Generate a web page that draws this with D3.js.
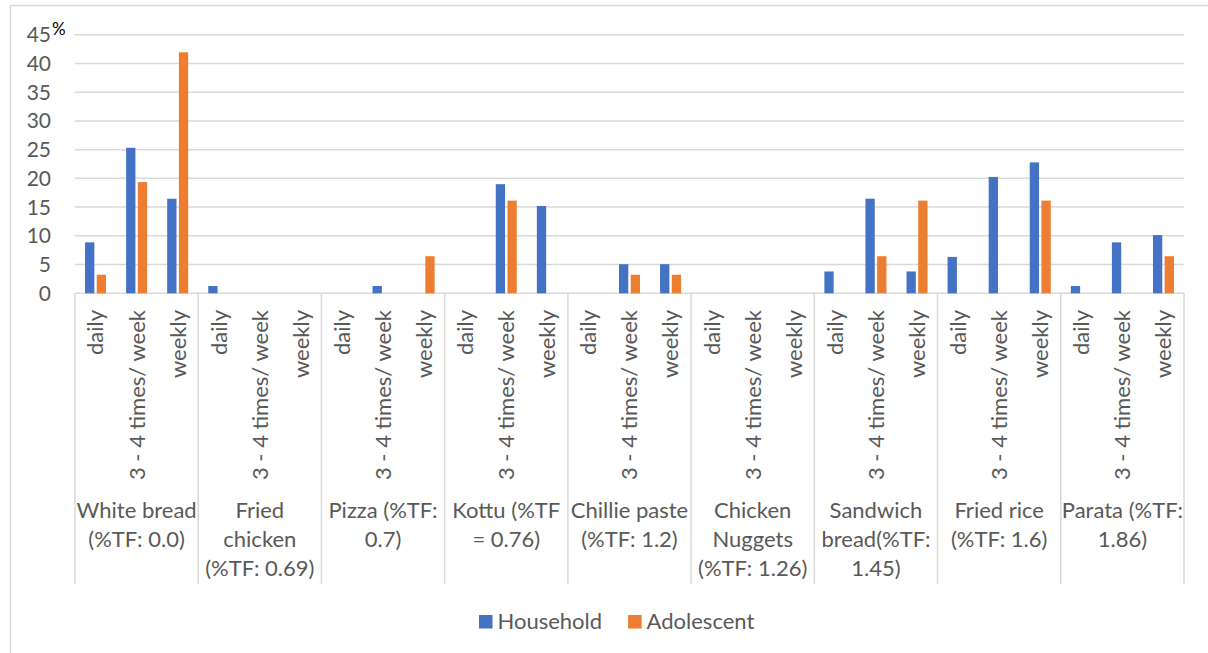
<!DOCTYPE html>
<html>
<head>
<meta charset="utf-8">
<script src="https://cdn.jsdelivr.net/npm/d3@7"></script>
<style>
  body { margin: 0; background: #fff; }
  text { font-family: Lato, "Noto Sans", sans-serif; }
</style>
</head>
<body>
<svg id="chart" width="1208" height="653"></svg>
<script>
// Food items (line breaks mark where the category label wraps)
const foods = [
  "White bread\n(%TF: 0.0)",
  "Fried\nchicken\n(%TF: 0.69)",
  "Pizza (%TF:\n0.7)",
  "Kottu (%TF\n= 0.76)",
  "Chillie paste\n(%TF: 1.2)",
  "Chicken\nNuggets\n(%TF: 1.26)",
  "Sandwich\nbread(%TF:\n1.45)",
  "Fried rice\n(%TF: 1.6)",
  "Parata (%TF:\n1.86)"
];
const frequencies = ["daily", "3 - 4 times/ week", "weekly"];
const seriesNames = ["Household", "Adolescent"];
const seriesColors = ["#4472C4", "#ED7D31"];

// Percent of respondents, ordered food by food, frequency by frequency
const household = [
  8.86, 25.32, 16.46,
  1.27, 0, 0,
  0, 1.27, 0,
  0, 18.99, 15.19,
  0, 5.06, 5.06,
  0, 0, 0,
  3.80, 16.46, 3.80,
  6.33, 20.25, 22.78,
  1.27, 8.86, 10.13
];
const adolescent = [
  3.23, 19.35, 41.94,
  0, 0, 0,
  0, 0, 6.45,
  0, 16.13, 0,
  0, 3.23, 3.23,
  0, 0, 0,
  0, 6.45, 16.13,
  0, 0, 16.13,
  0, 0, 6.45
];
const yTicks = [0, 5, 10, 15, 20, 25, 30, 35, 40, 45];

const svg = d3.select("#chart");
const W = 1208, H = 653;
const plotLeft = 75, plotRight = 1184, plotTop = 34.7, plotBottom = 293.3;
const gridColor = "#d9d9d9", textColor = "#595959";
const fontSize = 22;

// outer chart frame
svg.append("rect")
  .attr("x", 10.5).attr("y", 5.5)
  .attr("width", W + 20).attr("height", H + 20)
  .attr("fill", "#fff").attr("stroke", gridColor).attr("stroke-width", 1.5);

const xGroup = d3.scaleBand().domain(foods).range([plotLeft, plotRight]);
const xFreq = d3.scaleBand().domain(frequencies).range([0, xGroup.bandwidth()]);
const xSeries = d3.scaleBand().domain(seriesNames)
  .range([0, xFreq.bandwidth()])
  .paddingInner(0.205).paddingOuter(0.858);
const y = d3.scaleLinear().domain([0, 45]).range([plotBottom, plotTop]);

// horizontal gridlines
svg.append("g").selectAll("line").data(yTicks).join("line")
  .attr("x1", plotLeft).attr("x2", plotRight)
  .attr("y1", d => y(d)).attr("y2", d => y(d))
  .attr("stroke", gridColor).attr("stroke-width", 1.5);

// y tick labels
svg.append("g").selectAll("text").data(yTicks).join("text")
  .attr("x", 51).attr("y", d => y(d)).attr("dy", "0.36em")
  .attr("text-anchor", "end").attr("fill", textColor)
  .attr("font-size", 21)
  .text(d => d);

// unit label
svg.append("text").attr("x", 52).attr("y", 35)
  .attr("font-size", 17).attr("fill", "#000").text("%");

// flattened records for the bars
const records = [];
foods.forEach((f, gi) => {
  frequencies.forEach((q, qi) => {
    const i = gi * frequencies.length + qi;
    records.push({ food: f, freq: q, series: "Household", value: household[i], color: seriesColors[0] });
    records.push({ food: f, freq: q, series: "Adolescent", value: adolescent[i], color: seriesColors[1] });
  });
});

svg.append("g").selectAll("rect").data(records.filter(d => d.value > 0)).join("rect")
  .attr("x", d => xGroup(d.food) + xFreq(d.freq) + xSeries(d.series))
  .attr("width", xSeries.bandwidth())
  .attr("y", d => y(d.value))
  .attr("height", d => y(0) - y(d.value))
  .attr("fill", d => d.color);

// group separators on the category axis
const sepBottom = 584;
const bounds = foods.map(f => xGroup(f)).concat([plotRight]);
svg.append("g").selectAll("line").data(bounds).join("line")
  .attr("x1", d => d).attr("x2", d => d)
  .attr("y1", plotBottom).attr("y2", sepBottom)
  .attr("stroke", gridColor).attr("stroke-width", 1.5);

// frequency labels (rotated)
const freqLabels = [];
foods.forEach(f => frequencies.forEach(q => freqLabels.push({ food: f, freq: q })));
svg.append("g").selectAll("text").data(freqLabels).join("text")
  .attr("transform", d => `translate(${xGroup(d.food) + xFreq(d.freq) + xFreq.bandwidth() / 2},310) rotate(-90)`)
  .attr("text-anchor", "end").attr("dy", "0.36em")
  .attr("font-size", fontSize).attr("fill", textColor)
  .text(d => d.freq);

// food labels (wrapped)
const foodG = svg.append("g").selectAll("text").data(foods).join("text")
  .attr("text-anchor", "middle").attr("font-size", fontSize).attr("fill", textColor);
foodG.selectAll("tspan").data(d => d.split("\n").map(t => ({ t, f: d }))).join("tspan")
  .attr("x", d => xGroup(d.f) + xGroup.bandwidth() / 2)
  .attr("y", (d, i) => 518 + i * 29)
  .text(d => d.t);

// legend
const legend = svg.append("g");
let lx = 479;
seriesNames.forEach((s, i) => {
  legend.append("rect").attr("x", lx).attr("y", 615).attr("width", 13.5).attr("height", 13.5)
    .attr("fill", seriesColors[i]);
  const t = legend.append("text").attr("x", lx + 18.5).attr("y", 629)
    .attr("font-size", fontSize).attr("fill", textColor).text(s);
  lx += 18.5 + t.node().getComputedTextLength() + 26;
});
</script>
</body>
</html>
